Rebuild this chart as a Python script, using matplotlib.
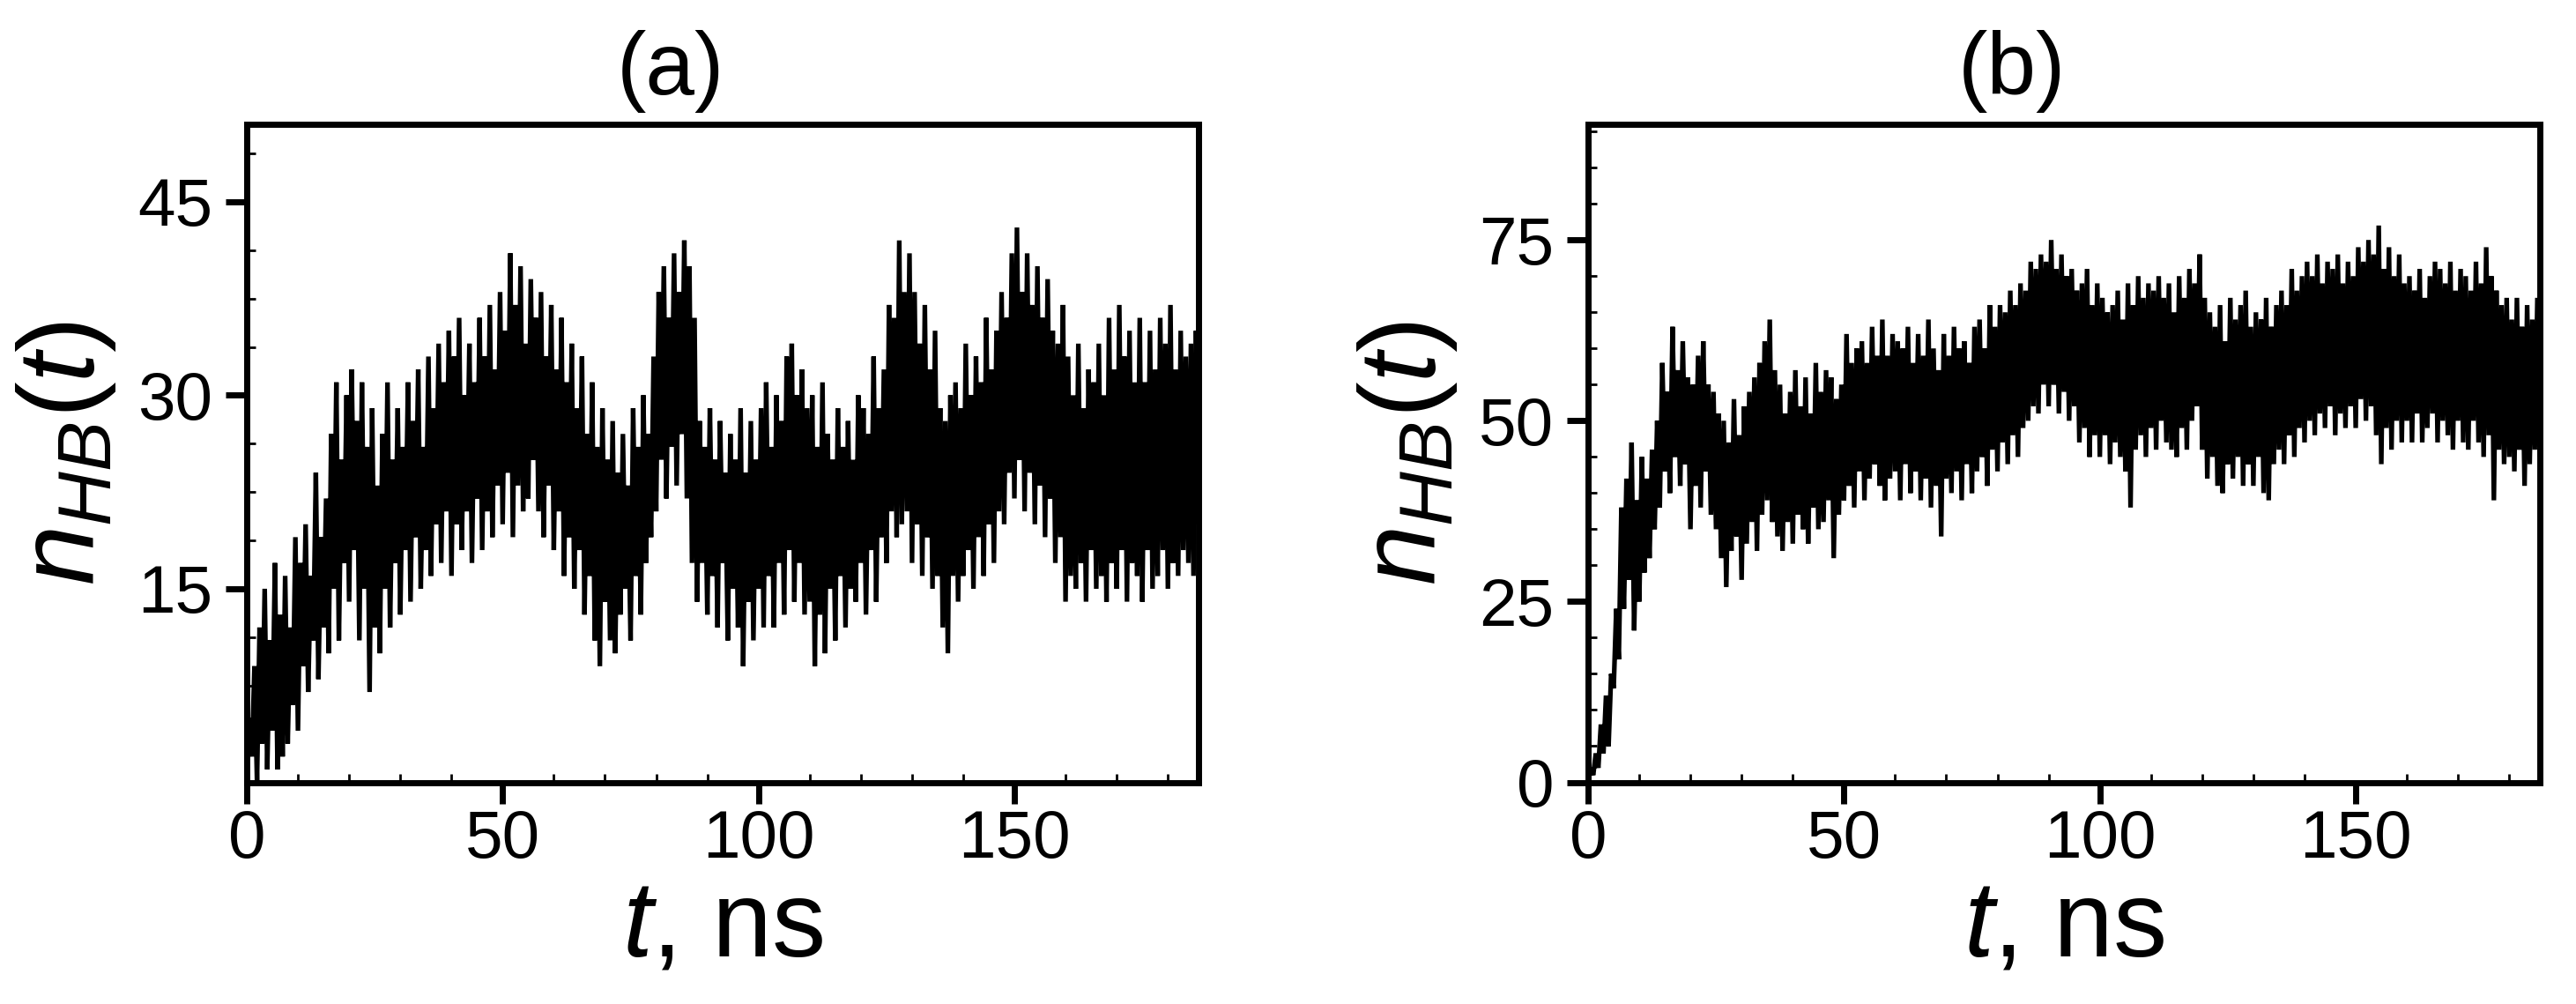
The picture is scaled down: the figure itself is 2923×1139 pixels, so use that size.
import matplotlib
matplotlib.use('Agg')
import matplotlib.pyplot as plt
from matplotlib.ticker import MultipleLocator, AutoMinorLocator
import numpy as np

plt.rcParams['font.family'] = 'Liberation Sans'
plt.rcParams['mathtext.fontset'] = 'custom'
plt.rcParams['mathtext.rm'] = 'Liberation Sans'
plt.rcParams['mathtext.it'] = 'Liberation Sans:italic'

# sampling step of the traces (ns), values alternate trough / peak
dt = 0.5

# panel (a): n_HB(t), 10 ns per row
nhb_a = [
    1, 5, 2, 9, 0, 12, 3, 15, 1, 11, 4, 17, 1, 13, 2, 16, 3, 12, 6, 19,
    4, 17, 9, 20, 7, 16, 11, 24, 8, 19, 12, 22, 10, 27, 15, 31, 11, 25, 17, 30,
    14, 32, 18, 28, 11, 31, 15, 26, 7, 29, 12, 23, 10, 27, 15, 31, 12, 25, 17, 29,
    13, 26, 18, 31, 14, 28, 19, 32, 15, 26, 18, 33, 16, 29, 20, 34, 17, 31, 21, 35,
    16, 33, 20, 36, 18, 30, 21, 34, 17, 31, 22, 36, 18, 33, 21, 37, 19, 32, 23, 38,
    20, 35, 24, 41, 19, 37, 23, 40, 21, 34, 22, 39, 25, 36, 21, 38, 19, 33, 23, 37,
    18, 32, 21, 36, 16, 31, 19, 34, 15, 29, 18, 33, 13, 27, 16, 31, 11, 26, 9, 29,
    14, 25, 11, 28, 10, 24, 13, 27, 15, 23, 11, 29, 16, 26, 13, 30, 17, 27, 19, 33,
    21, 38, 25, 40, 22, 36, 26, 41, 23, 38, 27, 42, 22, 40, 17, 36, 14, 28, 17, 26,
    13, 29, 16, 25, 12, 28, 17, 24, 11, 27, 15, 25, 12, 29, 9, 24, 14, 28, 11, 25,
    15, 29, 12, 31, 16, 26, 12, 30, 17, 28, 13, 33, 18, 34, 14, 30, 17, 32, 13, 29,
    14, 30, 9, 26, 13, 31, 10, 27, 15, 25, 11, 29, 16, 26, 12, 28, 15, 25, 14, 30,
    17, 29, 13, 27, 18, 33, 14, 29, 19, 32, 17, 37, 21, 36, 19, 42, 20, 38, 21, 41,
    17, 38, 20, 34, 16, 37, 19, 32, 15, 35, 16, 29, 12, 28, 10, 30, 16, 31, 14, 29,
    16, 34, 18, 30, 15, 33, 19, 31, 16, 36, 20, 32, 17, 35, 21, 38, 20, 36, 24, 41,
    22, 43, 25, 38, 21, 41, 24, 37, 20, 40, 23, 36, 19, 39, 22, 35, 17, 34, 19, 37,
    14, 33, 16, 30, 15, 34, 17, 29, 14, 32, 18, 31, 15, 34, 16, 30, 14, 36, 17, 32,
    15, 37, 18, 33, 14, 35, 17, 31, 16, 36, 14, 31, 18, 35, 15, 32, 16, 36, 18, 34,
    15, 37, 17, 32, 16, 35, 18, 33, 17, 34, 16, 35, 20, 33,
]

# panel (b)
nhb_b = [
    0, 2, 1, 4, 2, 8, 4, 12, 5, 15, 13, 24, 17, 38, 24, 42, 28, 47, 21, 39,
    25, 45, 29, 42, 31, 46, 35, 50, 38, 58, 43, 54, 40, 63, 45, 57, 41, 61, 44, 56,
    35, 55, 41, 59, 38, 61, 43, 55, 37, 54, 35, 51, 31, 50, 27, 47, 32, 53, 34, 48,
    28, 52, 33, 54, 36, 56, 32, 58, 37, 61, 39, 64, 36, 57, 34, 55, 32, 51, 36, 54,
    33, 57, 37, 52, 35, 56, 33, 51, 38, 58, 35, 54, 36, 57, 39, 56, 31, 53, 37, 55,
    39, 62, 41, 58, 38, 60, 43, 61, 39, 58, 42, 63, 44, 59, 41, 64, 39, 59, 42, 62,
    43, 61, 39, 60, 44, 63, 40, 58, 43, 62, 39, 59, 42, 64, 38, 60, 41, 57, 34, 62,
    42, 59, 40, 63, 43, 60, 39, 61, 44, 58, 40, 63, 43, 64, 45, 60, 41, 66, 46, 63,
    43, 66, 47, 65, 44, 68, 48, 66, 45, 69, 49, 68, 50, 72, 52, 71, 51, 73, 55, 72,
    52, 75, 55, 71, 51, 73, 54, 70, 50, 71, 52, 68, 47, 69, 49, 71, 45, 66, 48, 69,
    45, 67, 48, 65, 44, 66, 47, 68, 45, 64, 43, 69, 38, 66, 46, 70, 48, 67, 45, 69,
    49, 68, 46, 70, 50, 67, 47, 69, 46, 65, 45, 70, 49, 67, 46, 71, 50, 69, 52, 73,
    46, 67, 42, 65, 45, 63, 41, 66, 40, 61, 44, 67, 42, 64, 45, 66, 41, 68, 44, 63,
    41, 65, 45, 64, 40, 67, 39, 63, 44, 66, 46, 68, 44, 66, 48, 71, 45, 68, 49, 70,
    47, 72, 50, 70, 48, 73, 51, 69, 49, 72, 52, 71, 48, 73, 51, 69, 49, 72, 52, 70,
    49, 74, 53, 72, 50, 75, 52, 73, 48, 77, 44, 71, 49, 74, 46, 70, 50, 73, 47, 69,
    50, 70, 47, 68, 51, 71, 47, 67, 49, 70, 51, 72, 47, 71, 50, 69, 48, 72, 46, 68,
    50, 71, 47, 70, 46, 68, 50, 72, 47, 69, 45, 74, 48, 70, 39, 68, 46, 66, 44, 67,
    45, 64, 43, 67, 46, 63, 41, 66, 44, 64, 46, 67, 45, 66,
]

panels = [
    ('(a)', nhb_a, (0, 51), 15, 4),
    ('(b)', nhb_b, (0, 91), 25, 5),
]
t_max = 186


def style_axis(ax, ylim, ymajor, yminor_div):
    ax.set_xlim(0, t_max)
    ax.set_ylim(*ylim)
    ax.xaxis.set_major_locator(MultipleLocator(50))
    ax.xaxis.set_minor_locator(MultipleLocator(10))
    if ylim[1] < 60:
        ax.set_yticks([15, 30, 45])
    else:
        ax.yaxis.set_major_locator(MultipleLocator(ymajor))
    ax.yaxis.set_minor_locator(AutoMinorLocator(yminor_div))
    for s in ax.spines.values():
        s.set_linewidth(5)
    ax.tick_params(which='major', direction='out', length=17, width=5,
                   labelsize=55)
    ax.tick_params(which='minor', direction='in', length=7, width=2)
    ax.tick_params(axis='x', which='major', pad=5)
    ax.tick_params(axis='y', which='major', pad=11)


fig = plt.figure(figsize=(29.23, 11.39), dpi=100)
lefts = [0.0958, 0.6165]

for left, (title, vals, ylim, ymajor, ydiv) in zip(lefts, panels):
    ax = fig.add_axes([left, 0.2208, 0.3695, 0.6554])
    t = np.arange(len(vals)) * dt
    ax.plot(t, vals, color='black', lw=3.8, solid_joinstyle='bevel')
    style_axis(ax, ylim, ymajor, ydiv)
    ax.text(0.445, 1.045, title, transform=ax.transAxes, ha='center',
            va='baseline', fontsize=72)
    ax.set_ylabel(r'$n_{HB}(t)$', fontsize=88)
    ax.yaxis.set_label_coords(-0.135, 0.5)
    ax.set_xlabel(r'$t$, ns', fontsize=88)
    ax.xaxis.set_label_coords(0.5, -0.145)

fig.savefig('out.png', dpi=100)
